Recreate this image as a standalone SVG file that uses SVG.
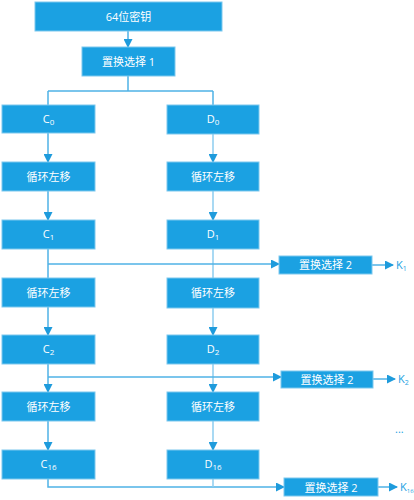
<svg xmlns="http://www.w3.org/2000/svg" width="414" height="500" viewBox="0 0 414 500">
<style>
.b{fill:#1ba1e2;stroke:#7cc8ee;stroke-width:1}
.t{fill:#fff;font-family:"Open Sans","Noto Sans CJK SC",sans-serif;font-size:11px;text-anchor:middle}
.k{fill:#1ba1e2;font-family:"Open Sans","Noto Sans CJK SC",sans-serif;font-size:11px}
.l{fill:none;stroke:#4fb2e6;stroke-width:1.5}
.r{fill:none;stroke:#8ccdef;stroke-width:1.5}
</style>
<defs>
<marker id="a" markerUnits="userSpaceOnUse" markerWidth="9" markerHeight="9" refX="8" refY="4.5" orient="auto"><path d="M0,0 L9,4.5 L0,9 z" fill="#1e9bdc"/></marker>
</defs>
<g id="connectors">
<path class="l" d="M128,31 V47" marker-end="url(#a)"/>
<path class="l" d="M128,76 V91 M48,91 H213 M48,91 V105 M213,91 V105"/>
<path class="l" d="M48,133 V162" marker-end="url(#a)"/>
<path class="r" d="M213,134 V162" marker-end="url(#a)"/>
<path class="l" d="M48,191 V220" marker-end="url(#a)"/>
<path class="r" d="M213,191 V220" marker-end="url(#a)"/>
<path class="l" d="M48,249 V278"/>
<path class="r" d="M213,249 V278"/>
<path class="l" d="M48,264 H279" marker-end="url(#a)"/>
<path class="l" d="M372,265 H393" marker-end="url(#a)"/>
<path class="l" d="M48,307 V335" marker-end="url(#a)"/>
<path class="r" d="M213,308 V335" marker-end="url(#a)"/>
<path class="l" d="M48,364 V392" marker-end="url(#a)"/>
<path class="r" d="M213,364 V392" marker-end="url(#a)"/>
<path class="l" d="M48,377 H281" marker-end="url(#a)"/>
<path class="l" d="M373,379 H395" marker-end="url(#a)"/>
<path class="l" d="M48,421 V450" marker-end="url(#a)"/>
<path class="r" d="M213,421 V450" marker-end="url(#a)"/>
<path class="l" d="M48,479 V487 H284" marker-end="url(#a)"/>
<path class="r" d="M213,479 V487"/>
<path class="l" d="M378,487 H397" marker-end="url(#a)"/>
</g>
<g id="key"><rect class="b" x="35" y="2" width="187" height="29"/><text class="t" x="128.5" y="20.5">64位密钥</text></g>
<g id="pc1"><rect class="b" x="82" y="47" width="93" height="29"/><text class="t" x="128.5" y="65.5">置换选择 1</text></g>
<g id="c0"><rect class="b" x="2" y="105" width="93" height="28"/><text class="t" x="48.5" y="123">C<tspan font-size="8" dy="2">0</tspan></text></g>
<g id="d0"><rect class="b" x="167" y="105" width="92" height="29"/><text class="t" x="213" y="123">D<tspan font-size="8" dy="2">0</tspan></text></g>
<g id="ls1c"><rect class="b" x="2" y="162" width="93" height="29"/><text class="t" x="48.5" y="180.5">循环左移</text></g>
<g id="ls1d"><rect class="b" x="167" y="162" width="92" height="29"/><text class="t" x="213" y="180.5">循环左移</text></g>
<g id="c1"><rect class="b" x="2" y="220" width="93" height="29"/><text class="t" x="48.5" y="238">C<tspan font-size="8" dy="2">1</tspan></text></g>
<g id="d1"><rect class="b" x="167" y="220" width="92" height="29"/><text class="t" x="213" y="238">D<tspan font-size="8" dy="2">1</tspan></text></g>
<g id="pc2a"><rect class="b" x="279" y="256" width="93" height="18"/><text class="t" x="325.5" y="269">置换选择 2</text></g>
<g id="k1"><text class="k" x="396" y="269">K<tspan font-size="7" dy="2">1</tspan></text></g>
<g id="ls2c"><rect class="b" x="2" y="278" width="93" height="29"/><text class="t" x="48.5" y="296.5">循环左移</text></g>
<g id="ls2d"><rect class="b" x="167" y="278" width="92" height="30"/><text class="t" x="213" y="297">循环左移</text></g>
<g id="c2"><rect class="b" x="2" y="335" width="93" height="29"/><text class="t" x="48.5" y="353">C<tspan font-size="8" dy="2">2</tspan></text></g>
<g id="d2"><rect class="b" x="167" y="335" width="92" height="29"/><text class="t" x="213" y="353">D<tspan font-size="8" dy="2">2</tspan></text></g>
<g id="pc2b"><rect class="b" x="281" y="371" width="92" height="17"/><text class="t" x="327" y="383.5">置换选择 2</text></g>
<g id="k2"><text class="k" x="398" y="383">K<tspan font-size="7" dy="2">2</tspan></text></g>
<g id="ls3c"><rect class="b" x="2" y="392" width="93" height="29"/><text class="t" x="48.5" y="410.5">循环左移</text></g>
<g id="ls3d"><rect class="b" x="167" y="392" width="92" height="29"/><text class="t" x="213" y="410.5">循环左移</text></g>
<g id="dots"><text class="k" x="395" y="433">...</text></g>
<g id="c16"><rect class="b" x="2" y="450" width="93" height="29"/><text class="t" x="48.5" y="468">C<tspan font-size="8" dy="2">16</tspan></text></g>
<g id="d16"><rect class="b" x="167" y="450" width="92" height="29"/><text class="t" x="213" y="468">D<tspan font-size="8" dy="2">16</tspan></text></g>
<g id="pc2c"><rect class="b" x="284" y="478" width="94" height="18"/><text class="t" x="331" y="491.5">置换选择 2</text></g>
<g id="k16"><text class="k" x="400" y="491">K<tspan font-size="6" dy="2">16</tspan></text></g>
</svg>
